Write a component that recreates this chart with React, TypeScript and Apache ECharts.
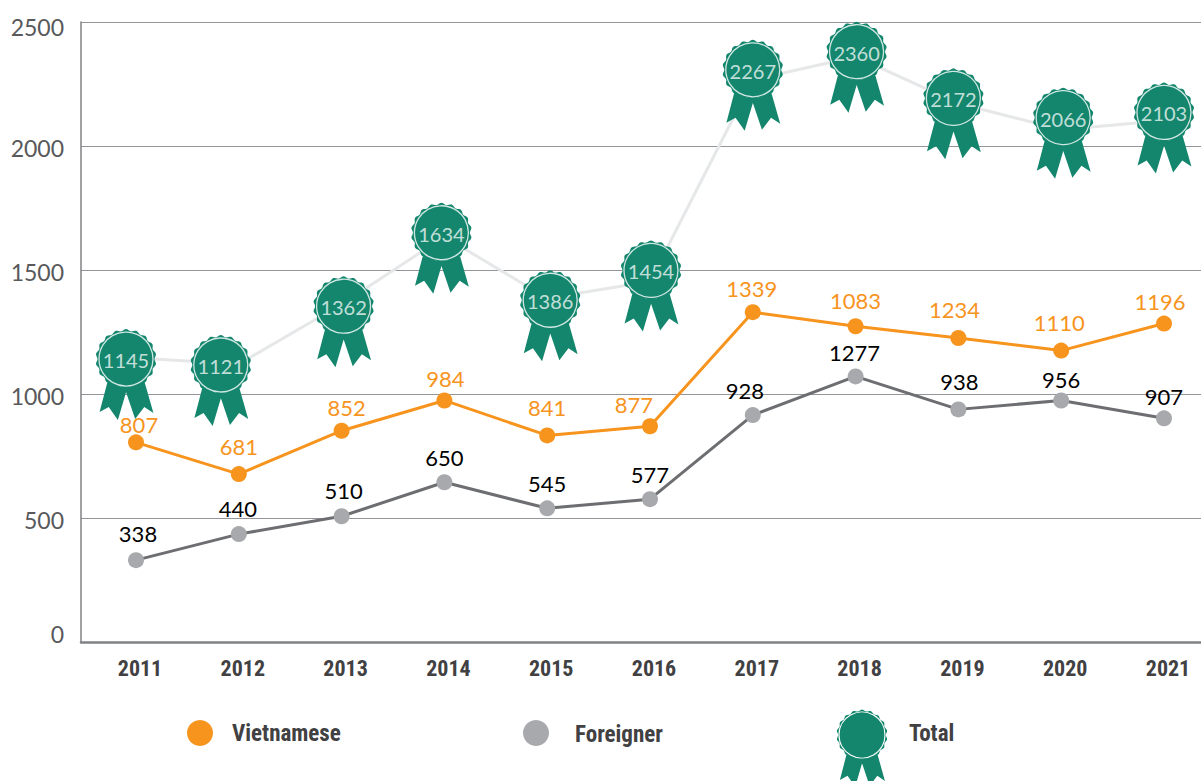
import React, { useEffect, useRef } from "react";
import * as echarts from "echarts";

const years = [2011, 2012, 2013, 2014, 2015, 2016, 2017, 2018, 2019, 2020, 2021];
const vietnamese = [805, 677, 852, 974, 833, 870, 1330, 1273, 1226, 1175, 1284];
const vietnameseLabels = ["807", "681", "852", "984", "841", "877", "1339", "1083", "1234", "1110", "1196"];
const foreigner = [330, 435, 507, 644, 539, 576, 915, 1071, 938, 974, 902];
const foreignerLabels = ["338", "440", "510", "650", "545", "577", "928", "1277", "938", "956", "907"];
const total = [1145, 1121, 1362, 1634, 1386, 1454, 2267, 2360, 2172, 2066, 2103];

// placement of marks and labels, in pixels
const medalShiftX = [-10, -18, 2, -3, 3, 1, 0, 1, -5, 2, 0];
const medalShiftY = [1, 1, 2, -4, 2, -11, -10, -5, -5, -12, -8];
const vnLabelOff = [[3, -18], [0, -28], [5, -23], [1, -22], [0, -28], [-16, -22], [-1, -24], [0, -26], [-4, -28], [-2, -28], [-4, -22]];
const fgLabelOff = [[2, -27], [-1, -26], [2, -26], [0, -25], [0, -25], [0, -25], [-8, -25], [-1, -24], [1, -28], [0, -21], [0, -22]];

const GREEN = "#13866D";
const ORANGE = "#F7941E";
const GREY_DOT = "#A7A9AC";
const LABEL_FONT = "Lato";
const BOLD_FONT = "'Roboto Condensed', 'Arial Narrow', Lato";

function medalPath(): string {
  const bumps = 18;
  const R = 30;
  const pts: string[] = [];
  const steps = bumps * 6;
  for (let i = 0; i <= steps; i++) {
    const a = (i / steps) * Math.PI * 2;
    const r = R - 1 + 1 * Math.cos(a * bumps);
    const x = r * Math.sin(a);
    const y = -r * Math.cos(a);
    pts.push((i === 0 ? "M" : "L") + x.toFixed(2) + " " + y.toFixed(2));
  }
  const disc = pts.join(" ") + " Z";
  const left = "M-18 22 L1 30 L-8 61 L-17 48 L-26 53 Z";
  const right = "M18 22 L27 54 L18 48 L9 60 L-1 30 Z";
  return disc + " " + left + " " + right;
}

const MEDAL = medalPath();
const MEDAL_W = 60;
const MEDAL_H = 91;
const MEDAL_CENTER_SHIFT = 15.5;

echarts.graphic.registerShape("medal", echarts.graphic.extendPath(MEDAL, {}) as any);

export default function App() {
  const ref = useRef<HTMLDivElement>(null);
  useEffect(() => {
    document.body.style.margin = "0";
    const chart = echarts.init(ref.current!, undefined, { renderer: "svg" });
    const pairs = (vals: number[]) => vals.map((v, i) => [years[i], v]);
    const lineSeries = (name: string, vals: number[], labels: string[], offs: number[][], line: string, dot: string, txt: string) => ({
      name,
      type: "line",
      z: 4,
      clip: false,
      symbol: "circle",
      symbolSize: 16,
      lineStyle: { color: line, width: 3 },
      itemStyle: { color: dot },
      data: pairs(vals).map((p, i) => ({
        value: p,
        label: {
          show: true,
          position: "inside",
          offset: offs[i],
          formatter: labels[i],
          color: txt,
          fontFamily: LABEL_FONT,
          fontSize: 22,
        },
      })),
    });
    chart.setOption({
      animation: false,
      grid: { left: 81, right: 0, top: 22, bottom: 139 },
      xAxis: {
        type: "value",
        min: 2010.465,
        max: 2021.36,
        splitLine: { show: false },
        axisTick: { show: false },
        axisLine: { show: true, lineStyle: { color: "#808285", width: 2.5 } },
        axisLabel: {
          customValues: years,
          formatter: (v: number) => String(v),
          margin: 15,
          padding: [0, 0, 0, 8],
          color: "#414042",
          fontFamily: BOLD_FONT,
          fontWeight: "bold",
          fontSize: 22,
        },
      },
      yAxis: {
        type: "value",
        min: 0,
        max: 2500,
        interval: 500,
        axisLine: { show: true, lineStyle: { color: "#808285", width: 1.5 } },
        axisTick: { show: false },
        splitLine: { lineStyle: { color: "#939598", width: 1 } },
        axisLabel: {
          margin: 17,
          formatter: (v: number) => (v === 0 ? `{zero|${v}}` : v === 2500 ? `{top|${v}}` : `{mid|${v}}`),
          rich: {
            zero: { padding: [0, 0, 16, 0], color: "#58595B", fontFamily: LABEL_FONT, fontSize: 23 },
            top: { padding: [10, 0, 0, 0], color: "#58595B", fontFamily: LABEL_FONT, fontSize: 23 },
            mid: { padding: [4, 0, 0, 0], color: "#58595B", fontFamily: LABEL_FONT, fontSize: 23 },
          },
        },
      },
      series: [
        {
          name: "Total",
          type: "line",
          z: 2,
          clip: false,
          symbol: "path://" + MEDAL,
          symbolSize: [MEDAL_W, MEDAL_H],
          lineStyle: { color: "#E6E7E8", width: 3 },
          itemStyle: { color: GREEN },
          data: pairs(total).map((p, i) => ({
            value: p,
            symbolOffset: [medalShiftX[i], MEDAL_CENTER_SHIFT + medalShiftY[i]],
          })),
        },
        {
          name: "TotalRing",
          type: "scatter",
          z: 3,
          clip: false,
          symbol: "circle",
          symbolSize: 54,
          itemStyle: { color: "rgba(0,0,0,0)", borderColor: "#FFFFFF", borderWidth: 1.3 },
          data: pairs(total).map((p, i) => ({
            value: p,
            symbolOffset: [medalShiftX[i], medalShiftY[i]],
            label: {
              show: true,
              position: "inside",
              offset: [0, 1],
              formatter: String(total[i]),
              color: "#F0F7F5",
              fontFamily: LABEL_FONT,
              fontSize: 20,
            },
          })),
        },
        lineSeries("Vietnamese", vietnamese, vietnameseLabels, vnLabelOff, ORANGE, ORANGE, ORANGE),
        lineSeries("Foreigner", foreigner, foreignerLabels, fgLabelOff, "#6D6E71", GREY_DOT, "#000000"),
      ],
      graphic: [
        { type: "circle", shape: { cx: 200, cy: 733, r: 13 }, style: { fill: ORANGE } },
        { type: "text", x: 232, y: 733, style: { text: "Vietnamese", fill: "#414042", font: `bold 23px ${BOLD_FONT}`, verticalAlign: "middle" } },
        { type: "circle", shape: { cx: 536, cy: 733, r: 13 }, style: { fill: GREY_DOT } },
        { type: "text", x: 575, y: 734, style: { text: "Foreigner", fill: "#414042", font: `bold 23px ${BOLD_FONT}`, verticalAlign: "middle" } },
        { type: "medal", x: 862, y: 735, scaleX: 0.85, scaleY: 0.85, style: { fill: GREEN } },
        { type: "circle", shape: { cx: 862, cy: 735, r: 23 }, style: { fill: "transparent", stroke: "#FFFFFF", lineWidth: 1.2 } },
        { type: "text", x: 909, y: 733, style: { text: "Total", fill: "#414042", font: `bold 23px ${BOLD_FONT}`, verticalAlign: "middle" } },
      ],
    });
    return () => chart.dispose();
  }, []);
  return <div ref={ref} style={{ width: 1201, height: 781 }} />;
}
